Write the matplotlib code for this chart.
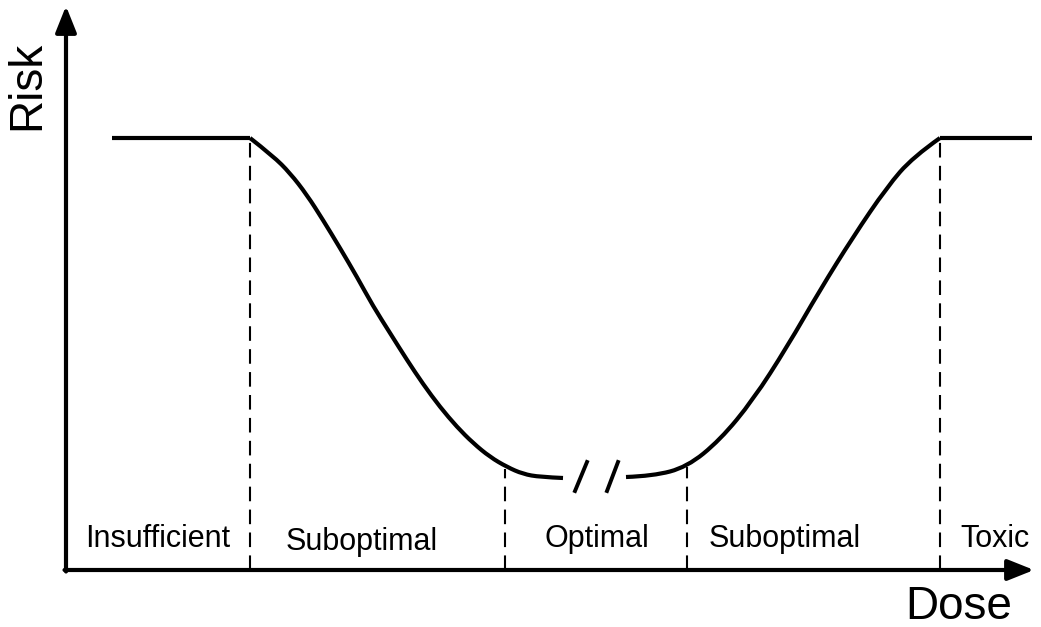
import matplotlib.pyplot as plt
from matplotlib.path import Path
from matplotlib.patches import PathPatch

plt.rcParams['font.family'] = ['Liberation Sans', 'DejaVu Sans']

# 图中读取的数据（x 为剂量，y 为风险，任意单位）
risk_high = 489
plateau_left = [112, 250]
plateau_right = [940, 1032]

descent_dose = [250, 273, 290, 307, 323, 340, 357, 373, 390, 407, 423, 440,
                457, 473, 490, 507, 523, 540, 563]
descent_risk = [489, 471, 454, 432, 407, 379, 350, 321, 294, 267, 243, 220,
                200, 184, 170, 160, 153, 150, 149]

ascent_dose = [626, 653, 687, 720, 753, 787, 820, 853, 887, 913, 940]
ascent_risk = [150, 151, 160, 187, 227, 280, 337, 390, 440, 470, 489]

# 区间分界（剂量）及其上端风险值
boundary_dose = [250, 505, 687, 940]
boundary_top = [489, 158, 160, 489]

zone_labels = ['Insufficient', 'Suboptimal', 'Optimal', 'Suboptimal', 'Toxic']
zone_label_x = [158, 362, 597, 785, 995]
zone_label_y = [88, 85, 88, 88, 88]

axis_origin = (66, 57)
axis_x_end = 1034
axis_y_end = 621


def smooth_path(xs, ys):
    """以读取点为控制点、相邻中点为锚点的二次贝塞尔平滑路径"""
    pts = list(zip(xs, ys))
    verts = [pts[0]]
    codes = [Path.MOVETO]
    for i in range(1, len(pts) - 1):
        mid = ((pts[i][0] + pts[i + 1][0]) / 2, (pts[i][1] + pts[i + 1][1]) / 2)
        if i == len(pts) - 2:
            mid = pts[-1]
        verts += [pts[i], mid]
        codes += [Path.CURVE3, Path.CURVE3]
    return Path(verts, codes)


fig = plt.figure(figsize=(10.41, 6.27), dpi=100)
ax = fig.add_axes([0, 0, 1, 1])
ax.set_xlim(0, 1041)
ax.set_ylim(0, 627)
ax.axis('off')

# 坐标轴箭头
arrow_kw = dict(arrowstyle='-|>,head_length=0.8,head_width=0.32', color='black',
                lw=3, mutation_scale=20, shrinkA=0, shrinkB=0)
ax.annotate('', xy=(axis_x_end, axis_origin[1]), xytext=(axis_origin[0] - 1.5, axis_origin[1]),
            arrowprops=arrow_kw)
ax.annotate('', xy=(axis_origin[0], axis_y_end), xytext=(axis_origin[0], axis_origin[1] - 1.5),
            arrowprops=arrow_kw)

# 风险曲线
curve_kw = dict(color='black', lw=3, solid_capstyle='butt')
ax.plot(plateau_left, [risk_high, risk_high], **curve_kw)
ax.plot(plateau_right, [risk_high, risk_high], **curve_kw)
for xs, ys in [(descent_dose, descent_risk), (ascent_dose, ascent_risk)]:
    ax.add_patch(PathPatch(smooth_path(xs, ys), facecolor='none', edgecolor='black',
                           lw=3, capstyle='butt', joinstyle='round'))

# 断裂符号
ax.plot([575, 587], [136, 165], color='black', lw=2.8)
ax.plot([607, 618], [136, 165], color='black', lw=2.8)

# 分界虚线
for xd, yt in zip(boundary_dose, boundary_top):
    ax.plot([xd, xd], [axis_origin[1], yt], color='black', lw=1.5,
            dashes=(7, 4))

# 区间标签
for lab, lx, ly in zip(zone_labels, zone_label_x, zone_label_y):
    ax.text(lx, ly, lab, ha='center', va='center', fontsize=22)

ax.text(27, 542, 'Risk', rotation=90, ha='center', va='center', fontsize=33)
ax.text(959, 20, 'Dose', ha='center', va='center', fontsize=33)

fig.savefig('out.png', dpi=100, facecolor='white')
